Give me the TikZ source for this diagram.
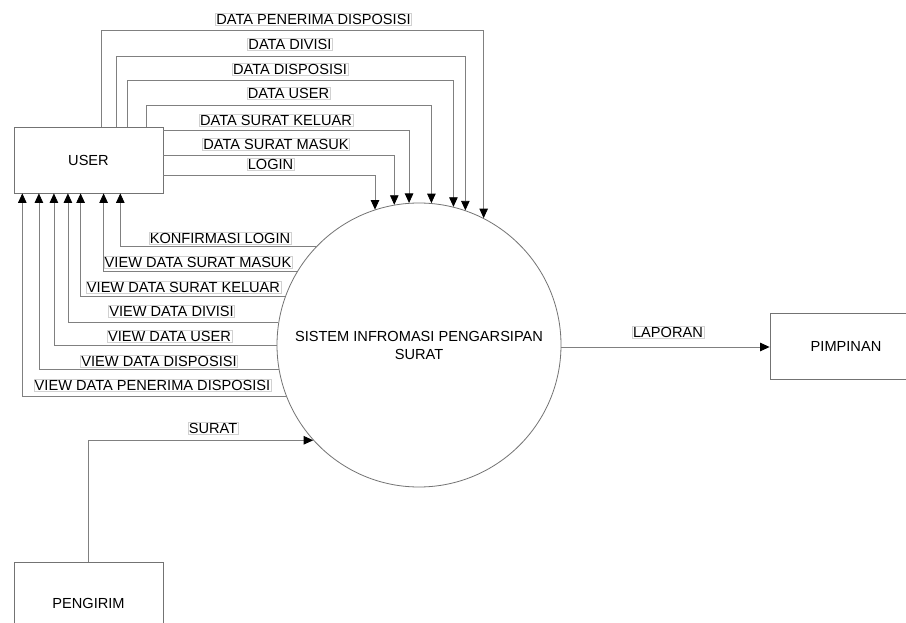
\documentclass[tikz,border=0pt]{standalone}
\usepackage{fontspec}
\setmainfont{Liberation Sans}
\usetikzlibrary{arrows.meta}
\begin{document}
\begin{tikzpicture}[x=1pt,y=-1pt,
  txt/.style={font=\fontsize{14.6}{18}\selectfont, text=black},
  entity/.style={txt, draw=black!55, line width=0.8pt, minimum width=149pt,
    minimum height=66pt, inner sep=0pt},
  process/.style={txt, draw=black!55, line width=0.8pt, circle,
    minimum size=284pt, inner sep=0pt, align=center},
  flow/.style={draw=black!50, line width=0.8pt,
    -{Triangle[width=8.5pt,length=9.5pt,color=black]}},
  flowlabel/.style={txt, draw=black!18, fill=white, inner sep=1pt}]

  % page frame
  \clip (0,0) rectangle (906,623);
  \fill[white] (0,0) rectangle (906,623);

  % external entities and the process
  \node[entity] (user) at (88.5,160) {USER};
  \node[entity, minimum width=152pt] (pim) at (846,346) {PIMPINAN};
  \node[entity, minimum height=82pt] (pen) at (88.5,603) {PENGIRIM};
  \node[process] (sys) at (419,345) {SISTEM INFROMASI PENGARSIPAN\\SURAT};

  % data flows from USER into the system
  \draw[flow] ([xshift=88pt]user.north west)  |- (sys.63.21 |- 0,30)  -- (sys.63.21);
  \draw[flow] ([xshift=103pt]user.north west) |- (sys.71.95 |- 0,56)  -- (sys.71.95);
  \draw[flow] ([xshift=114pt]user.north west) |- (sys.76.56 |- 0,80)  -- (sys.76.56);
  \draw[flow] ([xshift=133pt]user.north west) |- (sys.85.56 |- 0,105) -- (sys.85.56);
  \draw[flow] (user.east |- 0,130) -| (sys.94.44);
  \draw[flow] (user.east |- 0,155) -| (sys.100.55);
  \draw[flow] (user.east |- 0,175) -| (sys.108.48);

  % data flows from the system back to USER
  \draw[flow] (sys.136.91) -| ([xshift=106.7pt]user.south west);
  \draw[flow] (sys.149.06) -| ([xshift=90pt]user.south west);
  \draw[flow] (sys.160.24) -| ([xshift=67pt]user.south west);
  \draw[flow] (sys.171.09) -| ([xshift=54.3pt]user.south west);
  \draw[flow] (sys.180.81) -| ([xshift=40.3pt]user.south west);
  \draw[flow] (sys.190.96) -| ([xshift=25.3pt]user.south west);
  \draw[flow] (sys.201.05) -| ([xshift=8.7pt]user.south west);

  % report and incoming letters
  \draw[flow] (sys.east |- 0,347) -- (pim.west |- 0,347);
  \draw[flow] (pen.north) |- (sys.222);

  % flow labels
  \node[flowlabel] (lpd)  at (313.5,19) {DATA PENERIMA DISPOSISI};
  \node[flowlabel] (ldiv) at (290,44)   {DATA DIVISI};
  \node[flowlabel] (ldis) at (290,69)   {DATA DISPOSISI};
  \node[flowlabel] (lusr) at (288.5,93) {DATA USER};
  \node[flowlabel] (lsk)  at (276,120)  {DATA SURAT KELUAR};
  \node[flowlabel] (lsm)  at (276,144)  {DATA SURAT MASUK};
  \node[flowlabel] (llog) at (270.5,164){LOGIN};

  \node[flowlabel] (vkon) at (220,238)   {KONFIRMASI LOGIN};
  \node[flowlabel] (vsm)  at (198,262)   {VIEW DATA SURAT MASUK};
  \node[flowlabel] (vsk)  at (183.5,287) {VIEW DATA SURAT KELUAR};
  \node[flowlabel] (vdiv) at (171.5,311) {VIEW DATA DIVISI};
  \node[flowlabel] (vusr) at (169.5,336) {VIEW DATA USER};
  \node[flowlabel] (vdis) at (159,361)   {VIEW DATA DISPOSISI};
  \node[flowlabel] (vpd)  at (152.5,385) {VIEW DATA PENERIMA DISPOSISI};

  \node[flowlabel] (llap) at (668,332) {LAPORAN};
  \node[flowlabel] (lsur) at (213,428) {SURAT};
\end{tikzpicture}
\end{document}
